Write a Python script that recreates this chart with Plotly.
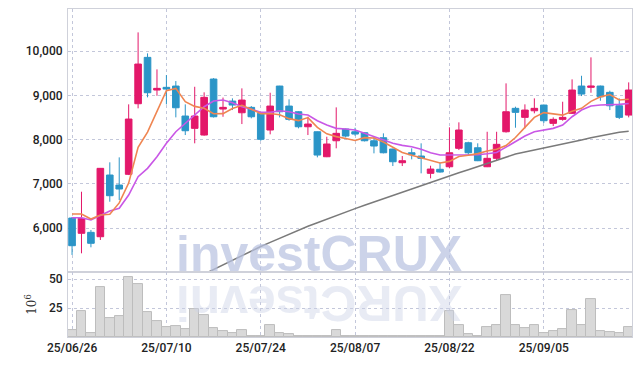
import plotly.graph_objects as go

dates = ["25/06/26","25/06/27","25/06/30","25/07/01","25/07/02","25/07/03","25/07/04","25/07/07","25/07/08","25/07/09",
         "25/07/10","25/07/11","25/07/14","25/07/15","25/07/16","25/07/17","25/07/18","25/07/21","25/07/22","25/07/23",
         "25/07/24","25/07/25","25/07/28","25/07/29","25/07/30","25/07/31","25/08/01","25/08/04","25/08/05","25/08/06",
         "25/08/07","25/08/08","25/08/11","25/08/12","25/08/13","25/08/14","25/08/18","25/08/19","25/08/20","25/08/21",
         "25/08/22","25/08/25","25/08/26","25/08/27","25/08/28","25/08/29","25/09/01","25/09/02","25/09/03","25/09/04",
         "25/09/05","25/09/08","25/09/09","25/09/10","25/09/11","25/09/12","25/09/15","25/09/16","25/09/17","25/09/18"]

open_ = [6230,5885,5907,5808,7201,6975,7217,8811,9858,9120,
         9181,9210,8533,8255,8104,9368,8691,8871,8607,8729,
         8594,8217,9210,8758,8630,8291,8178,7614,7975,8239,
         8178,8156,7975,8043,7788,7479,7704,7630,7239,7330,
         7388,7804,7930,7817,7388,7578,8178,8707,8503,8652,
         8781,8368,8458,8594,9210,9181,9210,9068,8765,8555]
high = [6250,6824,5959,7360,7488,7600,8797,10422,9948,9587,
        9458,9323,8797,9194,9068,9390,8950,8932,9158,8758,
        8600,9059,9215,8910,8645,8517,8185,8066,8729,8250,
        8269,8165,8066,8142,7795,7630,7804,7917,7411,7479,
        8278,8391,7952,7917,8178,8178,9271,8744,8797,8932,
        8790,8503,8856,9361,9442,9858,9220,9105,8932,9293]
low = [5396,5433,5569,5734,6598,6637,7200,8707,8955,8991,
       8797,8503,8104,7917,8090,8500,8517,8668,8352,8481,
       7975,8120,8503,8427,8255,8104,7600,7605,7804,8050,
       8088,7960,7691,7690,7404,7404,7555,7239,7126,7255,
       7352,7765,7652,7515,7380,7540,8160,8269,8255,8594,
       8375,8307,8427,8580,8984,9059,8878,8668,8465,8503]
close = [5605,6223,5659,7352,6734,6885,8465,9707,9059,9158,
         9142,8720,8201,8533,8955,8517,8729,8781,8894,8517,
         8007,8758,8630,8458,8291,8352,7652,7901,8142,8081,
         8126,7975,7856,7704,7501,7524,7659,7578,7336,7269,
         7704,8217,7704,7524,7578,7894,8630,8616,8668,8707,
         8427,8458,8503,9120,9029,9210,8968,8765,8503,9120]

ma5 = [6321,6321,6208,6298,6315,6571,7019,7829,8170,8655,
       9106,9157,8856,8751,8710,8585,8587,8703,8775,8688,
       8586,8591,8561,8474,8429,8498,8277,8131,8068,8026,
       7980,8045,8036,7948,7832,7712,7649,7593,7520,7473,
       7509,7621,7646,7684,7745,7783,7866,8048,8277,8503,
       8610,8575,8553,8643,8707,8864,8966,9018,8895,8913]
ma10 = [6237,6237,6185,6282,6388,6449,6749,7163,7352,7614,
        7917,8178,8368,8555,8743,8871,8894,8833,8743,8684,
        8616,8616,8652,8630,8578,8555,8427,8330,8255,8239,
        8217,8142,8066,7991,7917,7870,7840,7781,7704,7652,
        7652,7645,7645,7660,7680,7710,7830,7960,8081,8178,
        8217,8255,8330,8517,8668,8758,8781,8781,8797,8815]
ma60 = [None,None,None,None,None,None,None,None,None,None,
        None,None,None,4860,4966,5068,5176,5282,5390,5494,
        5587,5680,5772,5865,5959,6043,6124,6208,6291,6366,
        6442,6517,6591,6675,6749,6819,6889,6964,7036,7106,
        7178,7251,7321,7393,7465,7540,7619,7675,7720,7763,
        7806,7849,7894,7941,7991,8041,8088,8126,8165,8190]

volume = [5.9,22.6,3.3,43.5,16.2,17.9,51.4,45.5,21.5,13.5,
          8.3,9.1,6.5,24.1,18.8,7.4,4.7,3.3,5.6,1.2,
          1.2,10.3,3.3,2.4,0.6,1.2,1.2,0.6,5.6,0.6,
          0.6,0.6,0.6,0.6,0.6,0.6,1.2,1.2,1.2,1.2,
          22.6,10.3,2.4,1.2,8.3,10.3,35.8,10.3,7.4,10.3,
          3.3,4.7,6.5,23.5,10.3,32.3,5.0,4.1,3.3,8.3]

date_ticks = ["25/06/26","25/07/10","25/07/24","25/08/07","25/08/22","25/09/05"]
price_ticks = [6000,7000,8000,9000,10000]
vol_ticks = [25,50]

UP = "#e3186a"
DOWN = "#2b95c7"
GRID = "#c3c7da"
FRAME = "#cfd1da"

fig = go.Figure()

fig.add_trace(go.Candlestick(
    x=dates, open=open_, high=high, low=low, close=close,
    increasing=dict(line=dict(color=UP, width=1), fillcolor=UP),
    decreasing=dict(line=dict(color=DOWN, width=1), fillcolor=DOWN),
    whiskerwidth=0, xaxis="x", yaxis="y", showlegend=False, hoverinfo="skip"))

fig.add_trace(go.Scatter(x=dates, y=ma60, mode="lines", line=dict(color="#7a7a7a", width=1.5),
                         xaxis="x", yaxis="y", showlegend=False, connectgaps=False))
fig.add_trace(go.Scatter(x=dates, y=ma10, mode="lines", line=dict(color="#c957e6", width=1.6),
                         xaxis="x", yaxis="y", showlegend=False))
fig.add_trace(go.Scatter(x=dates, y=ma5, mode="lines", line=dict(color="#ef8551", width=1.6),
                         xaxis="x", yaxis="y", showlegend=False))

fig.add_trace(go.Bar(x=dates, y=volume, marker=dict(color="#d9d9d9", line=dict(color="#bdbdbd", width=1)),
                     xaxis="x2", yaxis="y2", showlegend=False, hoverinfo="skip"))

tickfont = dict(family="Roboto", size=12, color="#222222", weight=500)

# the page body adds an 8px offset, so the figure is sized 8px smaller
fig.update_layout(
    width=634, height=358,
    margin=dict(l=60, r=10, t=1, b=29),
    paper_bgcolor="white", plot_bgcolor="white",
    bargap=0, boxgap=0.3, boxgroupgap=0,
    showlegend=False,
    xaxis=dict(domain=[0, 1], anchor="y", type="category", range=[-0.43, 59.35], autorange=False,
               tickvals=date_ticks, showticklabels=False, showgrid=True, gridcolor=GRID,
               griddash="dot", gridwidth=1, rangeslider=dict(visible=False), automargin=False,
               showline=True, linecolor=FRAME, mirror=True, ticks=""),
    yaxis=dict(domain=[0.198, 1], range=[5010, 10950], tickvals=price_ticks, tickformat=",d",
               showgrid=True, gridcolor=GRID, griddash="dot", gridwidth=1, zeroline=False,
               automargin=False, ticklabelstandoff=2,
               showline=True, linecolor=FRAME, mirror=True, ticks="", tickfont=tickfont),
    xaxis2=dict(domain=[0, 1], anchor="y2", type="category", range=[-0.43, 59.35], autorange=False,
                tickvals=date_ticks, ticktext=date_ticks, showgrid=True, gridcolor=GRID,
                griddash="dot", gridwidth=1, showline=True, linecolor=FRAME, mirror=True,
                automargin=False, ticks="", tickfont=tickfont),
    yaxis2=dict(domain=[0, 0.198], range=[0, 56], tickvals=vol_ticks, showgrid=True,
                gridcolor=GRID, griddash="dot", gridwidth=1, zeroline=False, automargin=False,
                ticklabelstandoff=2,
                showline=True, linecolor=FRAME, mirror=True, ticks="", tickfont=tickfont,
                title=dict(text="10<sup>6</sup>", font=dict(family="DejaVu Serif", size=12, color="#333"),
                           standoff=9)),
    annotations=[
        dict(text="<b>investCRUX</b>", xref="paper", yref="paper", x=0.445, y=0.254,
             xanchor="center", yanchor="middle", showarrow=False,
             font=dict(family="Liberation Sans", size=50, color="rgba(185,194,224,0.72)")),
        dict(text="<b>XURCtsevni</b>", xref="paper", yref="paper", x=0.445, y=0.104,
             xanchor="center", yanchor="middle", showarrow=False, textangle=180,
             font=dict(family="Liberation Sans", size=50, color="rgba(205,210,230,0.45)")),
    ],
)

fig.write_html("out.html")
